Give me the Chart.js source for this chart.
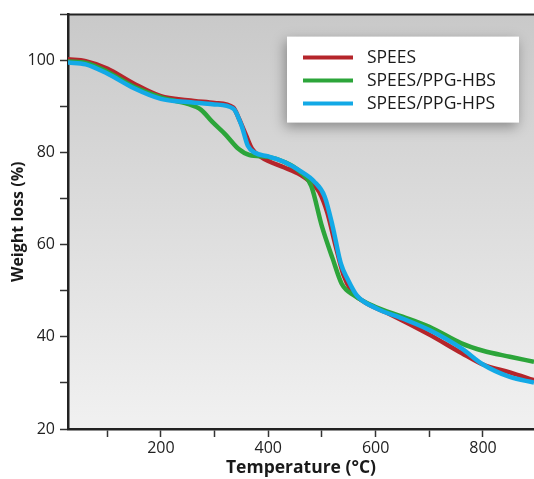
<!DOCTYPE html>
<html>
<head>
<meta charset="utf-8">
<script src="https://cdn.jsdelivr.net/npm/chart.js@4.4.1/dist/chart.umd.min.js"></script>
<style>
  body { margin: 0; background: #fff; }
  canvas { display: block; }
</style>
</head>
<body>
<canvas id="tga" width="534" height="479"></canvas>
<script>
// TGA curves: temperature (°C) vs remaining weight (%)
const speesTemp = [27, 60, 100, 150, 200, 250, 300, 335, 345, 358, 370, 385, 400, 430, 460, 480, 495, 510, 525, 540, 555, 580, 620, 700, 760, 800, 850, 895];
const speesLoss = [100.3, 99.9, 98.3, 95.0, 92.3, 91.4, 90.8, 89.8, 87.5, 84.0, 80.8, 79.2, 78.2, 76.8, 75.2, 73.5, 71.5, 67.0, 60.0, 53.5, 50.0, 47.5, 45.3, 40.5, 36.5, 34.0, 32.3, 30.6];

const hbsTemp = [27, 60, 100, 150, 200, 250, 275, 295, 320, 345, 365, 400, 430, 460, 480, 500, 520, 537, 560, 600, 650, 700, 760, 800, 850, 895];
const hbsLoss = [99.8, 99.5, 97.6, 94.3, 92.0, 90.6, 89.3, 86.8, 84.0, 80.8, 79.5, 79.1, 78.0, 75.8, 72.8, 64.0, 57.0, 51.5, 49.0, 46.5, 44.4, 42.2, 38.6, 37.0, 35.7, 34.6];

const hpsTemp = [27, 60, 100, 150, 200, 250, 300, 335, 350, 362, 375, 400, 430, 460, 485, 505, 520, 535, 548, 565, 600, 650, 700, 760, 800, 850, 895];
const hpsLoss = [99.6, 99.2, 97.2, 94.0, 91.7, 91.0, 90.5, 89.6, 86.0, 81.5, 80.0, 79.2, 78.0, 76.0, 73.8, 70.5, 64.0, 56.0, 52.5, 49.0, 46.3, 44.0, 41.5, 37.5, 34.0, 31.3, 30.1];

const seriesNames = ['SPEES', 'SPEES/PPG-HBS', 'SPEES/PPG-HPS'];
const seriesColors = ['#b5252b', '#2ca53a', '#13a9e6'];

const xTicks = [100, 200, 300, 400, 500, 600, 700, 800];
const yTicks = [20, 30, 40, 50, 60, 70, 80, 90, 100, 110];

function pairs(xs, ys) {
  return xs.map((x, i) => ({ x: x, y: ys[i] }));
}

// grey gradient behind the plot + top frame line
const plotBackground = {
  id: 'plotBackground',
  beforeDraw(chart) {
    const a = chart.chartArea, ctx = chart.ctx;
    const g = ctx.createLinearGradient(0, a.top, 0, a.bottom);
    g.addColorStop(0, '#c9c9c9');
    g.addColorStop(1, '#f1f1f1');
    ctx.save();
    ctx.fillStyle = g;
    ctx.fillRect(a.left, a.top, a.right - a.left, a.bottom - a.top);
    ctx.restore();
  },
  afterDraw(chart) {
    const a = chart.chartArea, ctx = chart.ctx;
    ctx.save();
    ctx.strokeStyle = '#222';
    ctx.lineWidth = 2;
    ctx.beginPath();
    ctx.moveTo(a.left - 1, a.top);
    ctx.lineTo(a.right, a.top);
    ctx.stroke();
    ctx.restore();
  }
};

// white legend box with a soft shadow, top right inside the plot
const boxLegend = {
  id: 'boxLegend',
  afterDatasetsDraw(chart) {
    const a = chart.chartArea, ctx = chart.ctx;
    const w = 232, h = 86;
    const left = a.right - 15 - w, top = a.top + 22;
    ctx.save();
    ctx.shadowColor = 'rgba(0,0,0,0.35)';
    ctx.shadowBlur = 12;
    ctx.shadowOffsetX = -2;
    ctx.shadowOffsetY = 4;
    ctx.fillStyle = '#fff';
    ctx.fillRect(left, top, w, h);
    ctx.restore();

    ctx.save();
    ctx.font = '17.5px "Open Sans"';
    ctx.textBaseline = 'middle';
    ctx.fillStyle = '#1a1a1a';
    chart.data.datasets.forEach((ds, i) => {
      const y = top + 21 + i * 23;
      ctx.strokeStyle = ds.borderColor;
      ctx.lineWidth = 4;
      ctx.beginPath();
      ctx.moveTo(left + 16, y);
      ctx.lineTo(left + 66, y);
      ctx.stroke();
      ctx.fillText(ds.label, left + 80, y);
    });
    ctx.restore();
  }
};

const datasets = [
  { label: seriesNames[0], data: pairs(speesTemp, speesLoss), borderColor: seriesColors[0], order: 3 },
  { label: seriesNames[1], data: pairs(hbsTemp, hbsLoss), borderColor: seriesColors[1], order: 2 },
  { label: seriesNames[2], data: pairs(hpsTemp, hpsLoss), borderColor: seriesColors[2], order: 1 }
].map(d => Object.assign(d, {
  borderWidth: 4.5,
  pointRadius: 0,
  fill: false,
  cubicInterpolationMode: 'monotone'
}));

new Chart(document.getElementById('tga'), {
  type: 'line',
  data: { datasets: datasets },
  options: {
    responsive: false,
    animation: false,
    devicePixelRatio: 1,
    layout: { padding: { top: 12, right: 0, bottom: 0, left: 0 } },
    plugins: { legend: { display: false }, tooltip: { enabled: false } },
    scales: {
      x: {
        type: 'linear',
        min: 27,
        max: 895,
        afterBuildTicks: s => { s.ticks = xTicks.map(v => ({ value: v })); },
        afterFit: s => { s.height = 50; },
        ticks: {
          callback: v => (v % 200 === 0 ? v : ''),
          font: { family: 'Open Sans', size: 16 },
          color: '#222',
          padding: 2,
          maxRotation: 0,
          autoSkip: false
        },
        grid: { drawOnChartArea: false, tickLength: 8, tickColor: '#333', tickWidth: 1.5 },
        border: { color: '#222', width: 2.5 },
        title: {
          display: true,
          text: 'Temperature (°C)',
          font: { family: 'Open Sans', size: 17.5, weight: 'bold' },
          color: '#1a1a1a',
          padding: { top: 1, bottom: 0 }
        }
      },
      y: {
        min: 20,
        max: 110,
        afterBuildTicks: s => { s.ticks = yTicks.map(v => ({ value: v })); },
        afterFit: s => { s.width = 68; },
        ticks: {
          callback: v => (v % 20 === 0 ? v : ''),
          font: { family: 'Open Sans', size: 16 },
          color: '#222',
          padding: 5
        },
        grid: { drawOnChartArea: false, tickLength: 8, tickColor: '#333', tickWidth: 1.5 },
        border: { color: '#222', width: 2.5 },
        title: {
          display: true,
          text: 'Weight loss (%)',
          font: { family: 'Open Sans', size: 16, weight: 'bold' },
          color: '#1a1a1a',
          padding: { top: 9, bottom: 0 }
        }
      }
    }
  },
  plugins: [plotBackground, boxLegend]
});
</script>
</body>
</html>
